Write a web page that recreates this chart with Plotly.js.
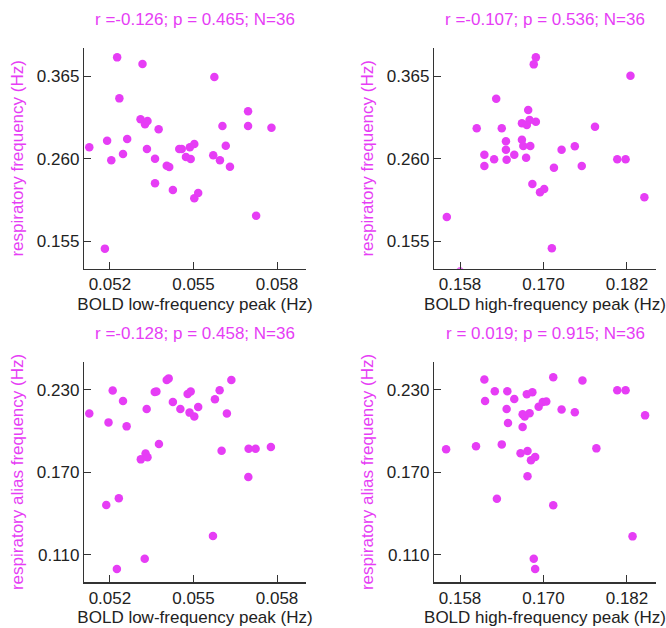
<!DOCTYPE html>
<html>
<head>
<meta charset="utf-8">
<script src="https://cdn.plot.ly/plotly-3.0.1.min.js"></script>
<style>html,body{margin:0;padding:0;background:#fff;}#chart{width:666px;height:628px;}</style>
</head>
<body>
<div id="chart"></div>
<script>
// Panel A (top-left): BOLD low-frequency peak vs respiratory frequency
const lowPeakA = [0.05226,0.05317,0.05575,0.05234,0.05696,0.05310,0.05326,0.05335,0.05375,0.05604,0.05696,0.05780,
  0.05126,0.05190,0.05262,0.05247,0.05205,0.05333,0.05362,0.05449,0.05458,0.05487,0.05503,0.05473,0.05490,0.05571,
  0.05595,0.05616,0.05631,0.05404,0.05413,0.05362,0.05426,0.05503,0.05517,0.05725,0.05182];
const respFreqA = [0.3887,0.3802,0.3637,0.3366,0.3201,0.3100,0.3036,0.3078,0.2973,0.3015,0.3015,0.2994,
  0.2744,0.2829,0.2850,0.2659,0.2579,0.2723,0.2600,0.2723,0.2723,0.2744,0.2786,0.2621,0.2596,0.2642,
  0.2579,0.2765,0.2498,0.2511,0.2494,0.2287,0.2202,0.2096,0.2164,0.1876,0.1457];

// Panel B (top-right): BOLD high-frequency peak vs respiratory frequency
const highPeakB = [0.1689,0.1686,0.1825,0.1632,0.1678,0.1669,0.1676,0.1680,0.1689,0.1604,0.1640,0.1774,
  0.1646,0.1669,0.1671,0.1681,0.1615,0.1646,0.1658,0.1726,0.1745,0.1629,0.1647,0.1675,0.1806,0.1818,
  0.1615,0.1715,0.1755,0.1684,0.1695,0.1701,0.1845,0.1561,0.1712,0.1580];
const respFreqB = [0.3887,0.3798,0.3654,0.3362,0.3218,0.3049,0.3028,0.3091,0.3070,0.2985,0.2985,0.3006,
  0.2820,0.2841,0.2761,0.2761,0.2651,0.2714,0.2651,0.2714,0.2757,0.2592,0.2587,0.2613,0.2592,0.2592,
  0.2507,0.2486,0.2507,0.2278,0.2172,0.2215,0.2109,0.1859,0.1461,0.1165];

// Panel C (bottom-left): BOLD low-frequency peak vs respiratory alias frequency
const lowPeakC = [0.05126,0.05210,0.05247,0.05195,0.05260,0.05332,0.05361,0.05367,0.05404,0.05411,0.05426,0.05453,
  0.05479,0.05490,0.05486,0.05503,0.05517,0.05577,0.05594,0.05620,0.05636,0.05376,0.05311,0.05328,0.05335,
  0.05601,0.05698,0.05723,0.05778,0.05697,0.05187,0.05232,0.05570,0.05325,0.05225];
const aliasFreqC = [0.2126,0.2293,0.2218,0.2062,0.2033,0.2159,0.2283,0.2286,0.2370,0.2382,0.2210,0.2159,
  0.2269,0.2286,0.2133,0.2104,0.2174,0.2230,0.2295,0.2126,0.2370,0.1905,0.1793,0.1835,0.1808,
  0.1856,0.1871,0.1871,0.1883,0.1665,0.1461,0.1510,0.1236,0.1071,0.0996];

// Panel D (bottom-right): BOLD high-frequency peak vs respiratory alias frequency
const highPeakD = [0.1560,0.1603,0.1615,0.1616,0.1630,0.1633,0.1640,0.1647,0.1648,0.1649,0.1658,0.1670,0.1673,
  0.1680,0.1670,0.1676,0.1684,0.1667,0.1677,0.1682,0.1688,0.1677,0.1693,0.1699,0.1704,0.1714,0.1726,0.1745,
  0.1756,0.1776,0.1714,0.1806,0.1818,0.1846,0.1828,0.1686,0.1688];
const aliasFreqD = [0.1866,0.1888,0.2373,0.2218,0.2288,0.1507,0.1902,0.2159,0.2288,0.2058,0.2232,0.2121,0.2104,
  0.2128,0.2029,0.2266,0.2281,0.1837,0.1854,0.1786,0.1810,0.1670,0.2176,0.2210,0.2213,0.2390,0.2155,0.2135,
  0.2366,0.1873,0.1459,0.2295,0.2295,0.2113,0.1233,0.1071,0.0996];

const panelStats = ["r =-0.126; p = 0.465; N=36", "r =-0.107; p = 0.536; N=36",
                    "r =-0.128; p = 0.458; N=36", "r = 0.019; p = 0.915; N=36"];
const xTitles = ["BOLD low-frequency peak (Hz)", "BOLD high-frequency peak (Hz)"];
const yTitles = ["respiratory frequency (Hz)", "respiratory alias frequency (Hz)"];
const lowTicks = [0.052, 0.055, 0.058];
const highTicks = [0.158, 0.170, 0.182];
const respTicks = [0.155, 0.260, 0.365];
const aliasTicks = [0.110, 0.170, 0.230];

const MAG = '#E63DF5';
const FONT = 'Liberation Sans, Arial, Helvetica, sans-serif';

function tr(x, y, xa, ya) {
  return {x: x, y: y, xaxis: xa, yaxis: ya, type: 'scatter', mode: 'markers',
    marker: {color: MAG, size: 8.5, line: {width: 0}}, hoverinfo: 'x+y', showlegend: false};
}
const data = [
  tr(lowPeakA, respFreqA, 'x', 'y'),
  tr(highPeakB, respFreqB, 'x2', 'y2'),
  tr(lowPeakC, aliasFreqC, 'x3', 'y3'),
  tr(highPeakD, aliasFreqD, 'x4', 'y4')
];

function xax(domain, range, ticks, title, anchor) {
  return {domain: domain, range: range, anchor: anchor, tickvals: ticks, tickformat: '.3f',
    ticks: 'inside', ticklen: 7, tickcolor: '#333', tickwidth: 1,
    showline: true, linecolor: '#333', linewidth: 1.2, mirror: false,
    showgrid: false, zeroline: false, fixedrange: true,
    tickfont: {family: FONT, size: 17, color: '#222'},
    title: {text: title, font: {family: FONT, size: 17, color: '#222'}, standoff: 4}};
}
function yax(domain, range, ticks, title, anchor) {
  return {domain: domain, range: range, anchor: anchor, tickvals: ticks, tickformat: '.3f',
    ticks: 'inside', ticklen: 7, tickcolor: '#333', tickwidth: 1,
    showline: true, linecolor: '#333', linewidth: 1.2, mirror: false,
    showgrid: false, zeroline: false, fixedrange: true,
    tickfont: {family: FONT, size: 17, color: '#222'},
    title: {text: title, font: {family: FONT, size: 17, color: MAG}, standoff: 8}};
}

const colL = [84/666, 306/666], colR = [434/666, 656/666];
const rowT = [359.3/628, 580/628], rowB = [45.7/628, 266.4/628];
const lowRange = [0.05107, 0.05904], highRange = [0.15426, 0.18617];
const respRange = [0.1202, 0.4006], aliasRange = [0.0899, 0.2504];

const annotations = panelStats.map((t, i) => ({
  text: t, xref: 'paper', yref: 'paper', showarrow: false,
  x: (i % 2 === 0) ? (colL[0] + colL[1]) / 2 : (colR[0] + colR[1]) / 2,
  y: i < 2 ? (628 - 20) / 628 : (628 - 333.5) / 628,
  xanchor: 'center', yanchor: 'middle',
  font: {family: FONT, size: 17, color: MAG}
}));

const layout = {
  width: 666, height: 628, autosize: false,
  margin: {l: 0, r: 0, t: 0, b: 0, pad: 0},
  paper_bgcolor: '#fff', plot_bgcolor: '#fff',
  font: {family: FONT, size: 17, color: '#222'},
  showlegend: false,
  xaxis: xax(colL, lowRange, lowTicks, xTitles[0], 'y'),
  yaxis: yax(rowT, respRange, respTicks, yTitles[0], 'x'),
  xaxis2: xax(colR, highRange, highTicks, xTitles[1], 'y2'),
  yaxis2: yax(rowT, respRange, respTicks, yTitles[0], 'x2'),
  xaxis3: xax(colL, lowRange, lowTicks, xTitles[0], 'y3'),
  yaxis3: yax(rowB, aliasRange, aliasTicks, yTitles[1], 'x3'),
  xaxis4: xax(colR, highRange, highTicks, xTitles[1], 'y4'),
  yaxis4: yax(rowB, aliasRange, aliasTicks, yTitles[1], 'x4'),
  annotations: annotations
};

Plotly.newPlot('chart', data, layout, {displayModeBar: false, staticPlot: true});
</script>
</body>
</html>
